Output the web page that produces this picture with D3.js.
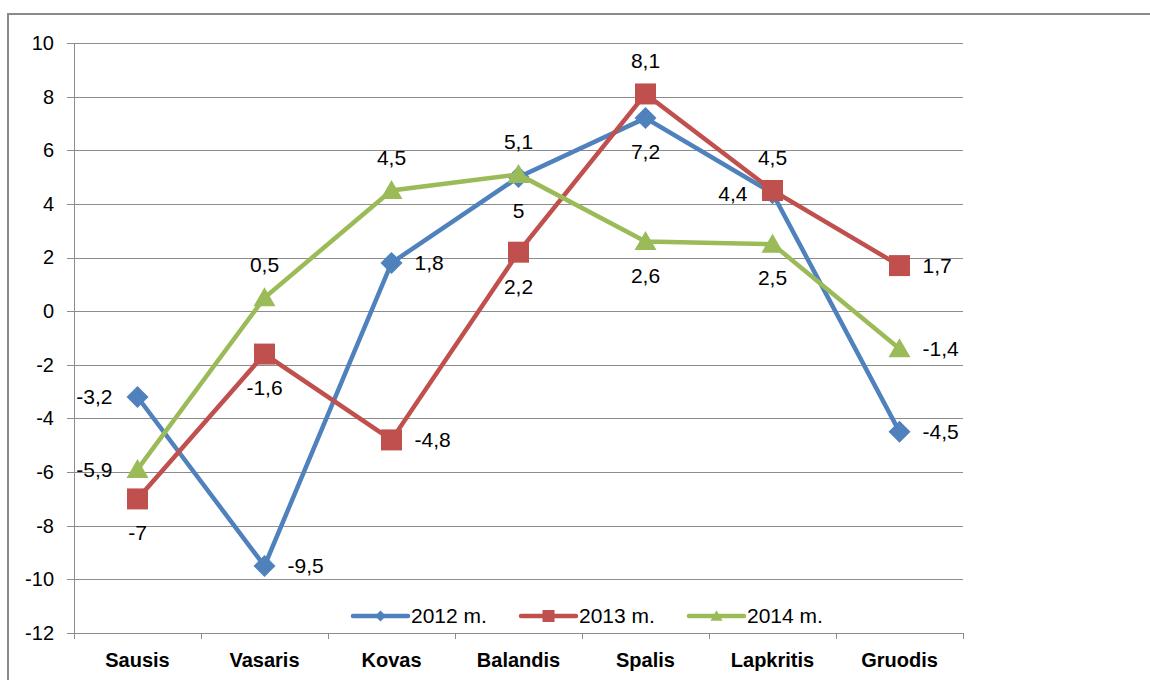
<!DOCTYPE html>
<html>
<head>
<meta charset="utf-8">
<script src="https://cdn.jsdelivr.net/npm/d3@7"></script>
<style>
  html, body { margin: 0; padding: 0; background: #fff; }
  svg { display: block; }
  text { font-family: "Liberation Sans", Arial, sans-serif; fill: #000; }
</style>
</head>
<body>
<svg id="chart" width="1150" height="680"></svg>
<script>
const categories = ["Sausis", "Vasaris", "Kovas", "Balandis", "Spalis", "Lapkritis", "Gruodis"];
const seriesNames = ["2012 m.", "2013 m.", "2014 m."];
const values2012 = [-3.2, -9.5, 1.8, 5, 7.2, 4.4, -4.5];
const values2013 = [-7, -1.6, -4.8, 2.2, 8.1, 4.5, 1.7];
const values2014 = [-5.9, 0.5, 4.5, 5.1, 2.6, 2.5, -1.4];
const yTicks = [-12, -10, -8, -6, -4, -2, 0, 2, 4, 6, 8, 10];

// label placement (style): l=left, r=right, t=top, b=bottom
const labelPos2012 = ["l", "r", "r", "b", "b", "l", "r"];
const labelPos2013 = ["b", "b", "r", "b", "t", "t", "r"];
const labelPos2014 = ["l", "t", "t", "t", "b", "b", "r"];

const colors = ["#4F81BD", "#C0504D", "#9BBB59"];
const markers = ["diamond", "square", "triangle"];

const series = [
  { name: seriesNames[0], values: values2012, pos: labelPos2012, color: colors[0], marker: markers[0] },
  { name: seriesNames[1], values: values2013, pos: labelPos2013, color: colors[1], marker: markers[1] },
  { name: seriesNames[2], values: values2014, pos: labelPos2014, color: colors[2], marker: markers[2] }
];

const svg = d3.select("#chart");

// outer frame
svg.append("rect").attr("x", 8).attr("y", 14).attr("width", 1160).attr("height", 700)
  .attr("fill", "none").attr("stroke", "#8a8a8a").attr("stroke-width", 2);

const pLeft = 74, pRight = 963, pTop = 43, pBottom = 633;
const x = d3.scaleBand().domain(categories).range([pLeft, pRight]);
const y = d3.scaleLinear().domain([-12, 10]).range([pBottom, pTop]);

// gridlines
svg.append("g").attr("transform", `translate(${pLeft},0)`)
  .call(d3.axisLeft(y).tickValues(yTicks).tickSize(-(pRight - pLeft)).tickFormat(""))
  .call(g => g.select(".domain").remove())
  .call(g => g.selectAll("line").attr("stroke", "#8c8c8c").attr("stroke-width", 1).attr("shape-rendering", "crispEdges"));

// y axis
svg.append("g").attr("transform", `translate(${pLeft},0)`)
  .call(d3.axisLeft(y).tickValues(yTicks).tickSize(7).tickPadding(13).tickFormat(d => String(d)))
  .call(g => g.select(".domain").attr("stroke", "#8c8c8c").attr("shape-rendering", "crispEdges"))
  .call(g => g.selectAll("line").attr("stroke", "#8c8c8c").attr("shape-rendering", "crispEdges"))
  .call(g => g.selectAll("text").attr("font-size", 20).attr("font-family", '"Liberation Sans", Arial, sans-serif').attr("fill", "#000"));

// x axis
const xAxisG = svg.append("g").attr("transform", `translate(0,${pBottom})`);
xAxisG.append("line").attr("x1", pLeft).attr("x2", pRight).attr("y1", 0).attr("y2", 0)
  .attr("stroke", "#8c8c8c").attr("shape-rendering", "crispEdges");
const boundaries = categories.map(c => x(c)).concat([x(categories[categories.length - 1]) + x.bandwidth()]);
xAxisG.selectAll("line.tick").data(boundaries).join("line").attr("class", "tick")
  .attr("x1", d => d).attr("x2", d => d).attr("y1", 0).attr("y2", 6)
  .attr("stroke", "#8c8c8c").attr("shape-rendering", "crispEdges");
xAxisG.selectAll("text.cat").data(categories).join("text").attr("class", "cat")
  .attr("x", d => x(d) + x.bandwidth() / 2).attr("y", 27)
  .attr("dy", "0.35em").attr("text-anchor", "middle")
  .attr("font-size", 20).attr("font-weight", "bold").text(d => d);

function markerPath(type, s) {
  if (type === "diamond") return `M0,${-s}L${s},0L0,${s}L${-s},0Z`;
  if (type === "square") return `M${-s},${-s}H${s}V${s}H${-s}Z`;
  return `M0,${-s * 1.05}L${s * 1.1},${s * 0.85}L${-s * 1.1},${s * 0.85}Z`;
}
const markerSize = { diamond: 11, square: 10.5, triangle: 10 };

const cx = c => x(c) + x.bandwidth() / 2;
const line = d3.line().x((d, i) => cx(categories[i])).y(d => y(d));

series.forEach(s => {
  const g = svg.append("g");
  g.append("path").datum(s.values).attr("d", line)
    .attr("fill", "none").attr("stroke", s.color).attr("stroke-width", 4.5).attr("stroke-linejoin", "miter");
  g.selectAll("path.m").data(s.values).join("path").attr("class", "m")
    .attr("transform", (d, i) => `translate(${cx(categories[i])},${y(d)})`)
    .attr("d", markerPath(s.marker, markerSize[s.marker]))
    .attr("fill", s.color);
});

// data labels
series.forEach(s => {
  svg.append("g").selectAll("text").data(s.values).join("text")
    .attr("font-size", 21)
    .attr("x", (d, i) => {
      const p = s.pos[i], px = cx(categories[i]);
      return p === "l" ? px - 25 : p === "r" ? px + 23 : px;
    })
    .attr("y", (d, i) => {
      const p = s.pos[i], py = y(d);
      return p === "t" ? py - 33 : p === "b" ? py + 34 : py;
    })
    .attr("dy", "0.35em")
    .attr("text-anchor", (d, i) => s.pos[i] === "l" ? "end" : s.pos[i] === "r" ? "start" : "middle")
    .text(d => String(d).replace(".", ","));
});

// legend
const legendX = [353, 521, 689];
const legendY = 616;
series.forEach((s, i) => {
  const g = svg.append("g").attr("transform", `translate(${legendX[i]},${legendY})`);
  g.append("line").attr("x1", 0).attr("x2", 55).attr("y1", 0).attr("y2", 0)
    .attr("stroke", s.color).attr("stroke-width", 4.5).attr("stroke-linecap", "round");
  g.append("path").attr("transform", "translate(27.5,0)")
    .attr("d", markerPath(s.marker, s.marker === "square" ? 6 : 5.5)).attr("fill", s.color);
  g.append("text").attr("x", 58).attr("y", 0).attr("dy", "0.35em").attr("font-size", 21).text(s.name);
});
</script>
</body>
</html>
